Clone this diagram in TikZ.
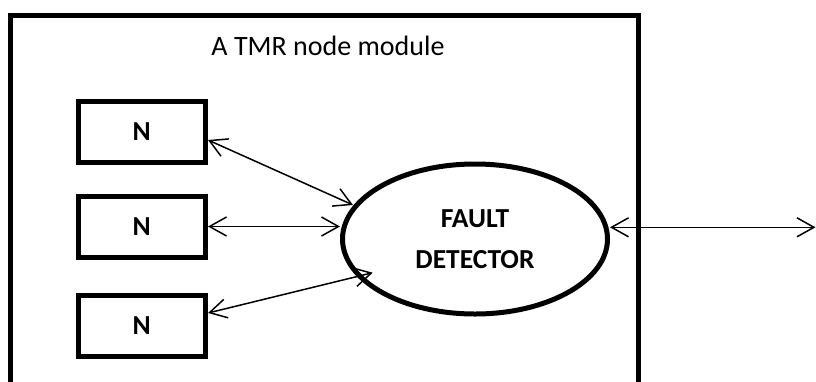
\documentclass[tikz,border=0pt]{standalone}
\usepackage{fontspec}
\setmainfont{Carlito}
\usetikzlibrary{arrows.meta,shapes.geometric,calc}
\begin{document}
\begin{tikzpicture}[x=1pt,y=-1pt,
  frame/.style={line width=5pt},
  nbox/.style={draw,line width=5pt,minimum width=127.5pt,minimum height=61pt,inner sep=0pt,
    font=\fontsize{27.5}{33}\selectfont\bfseries},
  detector/.style={draw,ellipse,line width=5pt,minimum width=265pt,minimum height=150pt,inner sep=0pt,
    align=center,font=\fontsize{27.5}{41}\selectfont\bfseries},
  titletext/.style={font=\fontsize{28}{33}\selectfont,inner sep=0pt},
  conn/.style={line width=1.5pt,{Straight Barb[length=17pt,width=19pt]}-{Straight Barb[length=17pt,width=19pt]}}]
\useasboundingbox (0,0) rectangle (816,381);
\clip (0,0) rectangle (816,381);
\draw[frame] (10.5,400) -- (10.5,15.8) -- (638,15.8) -- (638,400);
\node[titletext,anchor=base] (ttl) at (328,55) {A TMR node module};
\node[nbox] (n1) at (141.75,132) {N};
\node[nbox] (n2) at (141.75,226.5) {N};
\node[nbox] (n3) at (141.75,325.75) {N};
\node[detector] (fd) at (475,239) {FAULT\\DETECTOR};
\coordinate (out) at (815.5,227.3);
\draw[conn] ($(n1.east)+(0,8)$) -- ($(fd.center)+(-122,-34)$);
\draw[conn] (n2.east) -- (n2.east -| fd.west);
\draw[conn] ($(n3.east)+(0,-12.75)$) -- ($(fd.center)+(-102.3,33.7)$);
\draw[conn] (out -| fd.east) -- (out);
\end{tikzpicture}
\end{document}
